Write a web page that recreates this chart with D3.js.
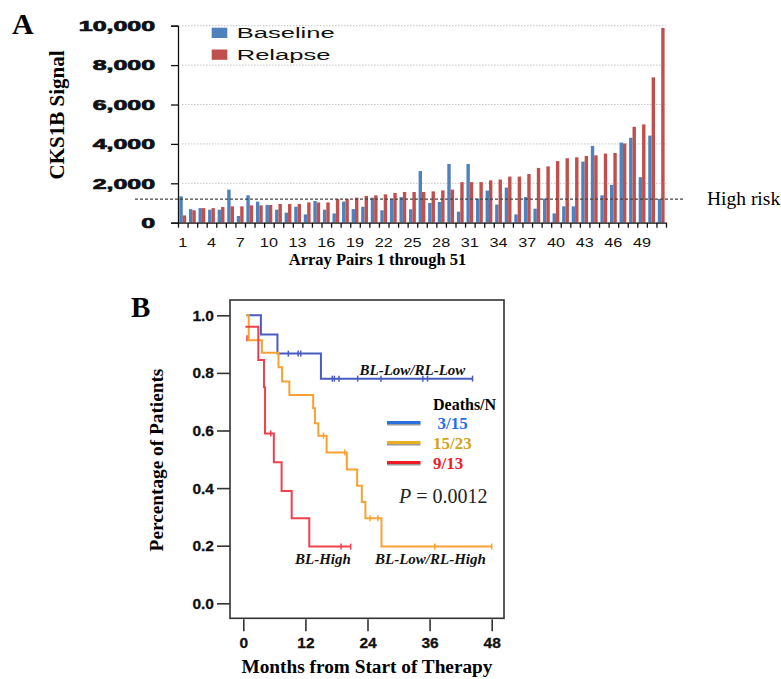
<!DOCTYPE html>
<html>
<head>
<meta charset="utf-8">
<script src="https://cdn.jsdelivr.net/npm/d3@7"></script>
<style>
  body { margin: 0; background: #fff; }
  svg { display: block; }
</style>
</head>
<body>
<div id="chart"></div>
<script>
// ---------- panel A data ----------
var pairs = d3.range(1, 52);
var pairTicks = [1, 4, 7, 10, 13, 16, 19, 22, 25, 28, 31, 34, 37, 40, 43, 46, 49];
var signalTicks = [0, 2000, 4000, 6000, 8000, 10000];
var highRisk = 1200;

var baseline = [1340, 690, 740, 660, 660, 1680, 340, 1390, 1070, 900,
  660, 510, 810, 420, 1100, 660, 470, 1070, 690, 810,
  1270, 630, 1220, 1300, 680, 2620, 1000, 1050, 2980, 560,
  2980, 1220, 1630, 920, 1780, 420, 1300, 710, 1220, 470,
  830, 830, 3100, 3900, 1390, 1920, 4070, 4310, 2310, 4420, 1200];

var relapse = [370, 630, 740, 740, 800, 830, 830, 880, 880, 900,
  950, 950, 950, 1030, 1030, 1030, 1200, 1200, 1270, 1360,
  1390, 1440, 1510, 1560, 1560, 1560, 1590, 1640, 1680, 2060,
  2060, 2060, 2150, 2190, 2340, 2340, 2470, 2780, 2860, 3130,
  3270, 3320, 3390, 3420, 3510, 3540, 4020, 4870, 4990, 7380, 9890];

// ---------- panel B data (month, survival) ----------
var monthTicks = [0, 12, 24, 36, 48];
var survTicks = [0, 0.2, 0.4, 0.6, 0.8, 1.0];

var lowLow = [[0.6, 1.0], [3.4, 0.933], [6.6, 0.867], [15.0, 0.78], [44.3, 0.78]];
var lowLowCens = [[8.7, 0.867], [10.6, 0.867], [11.1, 0.867], [17.2, 0.78], [17.6, 0.78], [18.5, 0.78],
  [22.1, 0.78], [26.6, 0.78], [34.7, 0.78], [35.6, 0.78], [44.3, 0.78]];

var lowHigh = [[0.6, 1.0], [1.05, 0.913], [3.6, 0.87], [6.8, 0.82], [7.5, 0.77], [8.9, 0.723],
  [13.5, 0.677], [13.85, 0.625], [14.5, 0.582], [16.1, 0.524], [20.0, 0.465], [22.0, 0.408],
  [22.9, 0.352], [23.6, 0.295], [26.7, 0.197], [48.0, 0.197]];
var lowHighCens = [[15.5, 0.582], [19.6, 0.524], [24.5, 0.295], [26.0, 0.295], [37.0, 0.197], [48.0, 0.197]];

var blHigh = [[0.4, 0.96], [2.9, 0.845], [4.0, 0.75], [4.2, 0.59], [5.9, 0.49], [7.4, 0.39],
  [9.35, 0.295], [12.75, 0.197], [20.75, 0.197]];
var blHighCens = [[0.7, 0.92], [5.3, 0.59], [18.9, 0.197], [20.75, 0.197]];

var legendLabels = ["3/15", "15/23", "9/13"];

var sans = "'Liberation Sans', Arial, sans-serif";
var serif = "'Liberation Serif', 'Times New Roman', serif";

var svg = d3.select("#chart")
  .append("svg")
  .attr("width", 781)
  .attr("height", 679)
  .style("background", "#fff");

// text squeezed/stretched horizontally like the scanned figure
function wideText(parent, x, y, str, sx, anchor) {
  var g = parent.append("g").attr("transform", "translate(" + x + "," + y + ") scale(" + sx + ",1)");
  return g.append("text").attr("text-anchor", anchor).text(str);
}

// ================= panel A =================
var aLeft = 178, aRight = 666, aTop = 25.7, aBottom = 222.7;
var chartA = svg.append("g");

var xBand = d3.scaleBand()
  .domain(pairs)
  .range([aLeft, aRight])
  .paddingInner(0.29)
  .paddingOuter(0.145);

var xSub = d3.scaleBand()
  .domain(["baseline", "relapse"])
  .range([0, xBand.bandwidth()]);

var xEdge = d3.scaleLinear().domain([0, 51]).range([aLeft, aRight]);

var yA = d3.scaleLinear().domain([0, 10000]).range([aBottom, aTop]);

// grid
chartA.selectAll("line.grid")
  .data(signalTicks.slice(1))
  .enter()
  .append("line")
  .attr("x1", aLeft + 4).attr("x2", aRight)
  .attr("y1", d => yA(d)).attr("y2", d => yA(d))
  .attr("stroke", "#c4c4c4")
  .attr("stroke-width", 1)
  .attr("stroke-dasharray", "1.5,1.5");

// bars
chartA.selectAll("rect.base")
  .data(baseline)
  .enter()
  .append("rect")
  .attr("x", (d, i) => xBand(pairs[i]) + xSub("baseline"))
  .attr("y", d => yA(d))
  .attr("width", xSub.bandwidth())
  .attr("height", d => yA(0) - yA(d))
  .attr("fill", "#4f81bd");

chartA.selectAll("rect.rel")
  .data(relapse)
  .enter()
  .append("rect")
  .attr("x", (d, i) => xBand(pairs[i]) + xSub("relapse"))
  .attr("y", d => yA(d))
  .attr("width", xSub.bandwidth())
  .attr("height", d => yA(0) - yA(d))
  .attr("fill", "#c0504d");

// axes
var yAxisA = chartA.append("g")
  .attr("transform", "translate(" + aLeft + ",0)")
  .call(d3.axisLeft(yA).tickValues(signalTicks).tickSize(7).tickFormat(""));

var xAxisA = chartA.append("g")
  .attr("transform", "translate(0," + aBottom + ")")
  .call(d3.axisBottom(xEdge).tickValues(d3.range(0, 52)).tickSize(5).tickSizeOuter(0).tickFormat(""));

chartA.selectAll(".domain, .tick line").attr("stroke", "#111").attr("stroke-width", 1.3);

signalTicks.forEach(function(v) {
  wideText(chartA, 155, yA(v) + 5.3, d3.format(",")(v), 1.72, "end")
    .attr("font-family", sans).attr("font-weight", "bold").attr("font-size", 14.5)
    .attr("fill", "#111").attr("stroke", "#111").attr("stroke-width", 0.7);
});

pairTicks.forEach(function(p) {
  wideText(chartA, xBand(p) + xBand.bandwidth() / 2, 247, p, 1.3, "middle")
    .attr("font-family", sans).attr("font-size", 12.5).attr("fill", "#111");
});

// high risk cutoff
chartA.append("line")
  .attr("x1", 135).attr("x2", 685)
  .attr("y1", yA(highRisk)).attr("y2", yA(highRisk))
  .attr("stroke", "#444")
  .attr("stroke-width", 1.2)
  .attr("stroke-dasharray", "3,2");

chartA.append("text")
  .attr("x", 707).attr("y", yA(highRisk) + 6)
  .attr("font-family", serif).attr("font-size", 19.5)
  .text("High risk");

// legend
var legA = [["Baseline", "#4f81bd", 27.7], ["Relapse", "#c0504d", 49.5]];
legA.forEach(function(l) {
  chartA.append("rect")
    .attr("x", 211.7).attr("y", l[2]).attr("width", 15.6).attr("height", 10.3)
    .attr("fill", l[1]);
  wideText(chartA, 236.7, l[2] + 10.2, l[0], 1.65, "start")
    .attr("font-family", sans).attr("font-size", 15.5).attr("fill", "#111");
});

// titles
chartA.append("text")
  .attr("x", 12).attr("y", 34)
  .attr("font-family", serif).attr("font-weight", "bold").attr("font-size", 30)
  .text("A");

chartA.append("text")
  .attr("transform", "translate(64,115) rotate(-90)")
  .attr("text-anchor", "middle")
  .attr("font-family", serif).attr("font-weight", "bold").attr("font-size", 21)
  .text("CKS1B Signal");

chartA.append("text")
  .attr("x", 377.5).attr("y", 265)
  .attr("text-anchor", "middle")
  .attr("font-family", serif).attr("font-weight", "bold").attr("font-size", 16.5)
  .text("Array Pairs 1 through 51");

// ================= panel B =================
var bLeft = 230, bRight = 504, bTop = 300, bBottom = 618.3;
var chartB = svg.append("g");

var xB = d3.scaleLinear().domain([0, 48]).range([243.3, 491.7]);
var yB = d3.scaleLinear().domain([0, 1]).range([603.3, 315.3]);

chartB.append("rect")
  .attr("x", bLeft).attr("y", bTop)
  .attr("width", bRight - bLeft).attr("height", bBottom - bTop)
  .attr("fill", "none")
  .attr("stroke", "#333")
  .attr("stroke-width", 1.6);

var yAxisB = chartB.append("g")
  .attr("transform", "translate(" + bLeft + ",0)")
  .call(d3.axisLeft(yB).tickValues(survTicks).tickSize(13).tickPadding(3).tickFormat(d3.format(".1f")));

var xAxisB = chartB.append("g")
  .attr("transform", "translate(0," + (bBottom + 1) + ")")
  .call(d3.axisBottom(xB).tickValues(monthTicks).tickSize(12).tickPadding(6));

[yAxisB, xAxisB].forEach(function(ax) {
  ax.select(".domain").remove();
  ax.selectAll(".tick line").attr("stroke", "#333").attr("stroke-width", 1.6);
  ax.selectAll(".tick text")
    .attr("font-family", sans).attr("font-weight", "bold").attr("font-size", 15.5)
    .attr("fill", "#111").attr("stroke", "#111").attr("stroke-width", 0.3);
});

// survival curves
var kmLine = d3.line()
  .x(d => xB(d[0]))
  .y(d => yB(d[1]))
  .curve(d3.curveStepAfter);

var groups = [
  [lowLow, lowLowCens, "#4a5cbf"],
  [lowHigh, lowHighCens, "#f7a234"],
  [blHigh, blHighCens, "#f0404e"]
];

groups.forEach(function(g) {
  chartB.append("path")
    .datum(g[0])
    .attr("d", kmLine)
    .attr("fill", "none")
    .attr("stroke", g[2])
    .attr("stroke-width", 2);

  chartB.selectAll(null)
    .data(g[1])
    .enter()
    .append("line")
    .attr("x1", d => xB(d[0])).attr("x2", d => xB(d[0]))
    .attr("y1", d => yB(d[1]) - 3).attr("y2", d => yB(d[1]) + 3)
    .attr("stroke", g[2])
    .attr("stroke-width", 1.5);
});

// curve labels
var curveLabels = [["BL-Low/RL-Low", 359.5, 374.5], ["BL-High", 295, 564], ["BL-Low/RL-High", 375, 564]];
curveLabels.forEach(function(c) {
  chartB.append("text")
    .attr("x", c[1]).attr("y", c[2])
    .attr("font-family", serif).attr("font-weight", "bold").attr("font-style", "italic")
    .attr("font-size", 15)
    .attr("fill", "#111")
    .text(c[0]);
});

// legend
chartB.append("text")
  .attr("x", 433).attr("y", 410)
  .attr("font-family", serif).attr("font-weight", "bold").attr("font-size", 16)
  .text("Deaths/N");

var legColors = ["#1f6fe8", "#d4a21c", "#ee1c25"];
var legLines = ["#2b6fe0", "#e8b020", "#f01c24"];
legendLabels.forEach(function(lab, i) {
  var ly = 422.5 + i * 20;
  chartB.append("line")
    .attr("x1", 387).attr("x2", 420.5)
    .attr("y1", ly + 2).attr("y2", ly + 2)
    .attr("stroke", "#9a9a9a").attr("stroke-width", 2);
  chartB.append("line")
    .attr("x1", 387).attr("x2", 420.5)
    .attr("y1", ly).attr("y2", ly)
    .attr("stroke", legLines[i]).attr("stroke-width", 3.2);
  chartB.append("text")
    .attr("x", i === 0 ? 437.5 : 433).attr("y", ly + 6.5)
    .attr("font-family", serif).attr("font-weight", "bold").attr("font-size", 17)
    .attr("fill", legColors[i])
    .text(lab);
});

var pText = chartB.append("text")
  .attr("x", 399).attr("y", 503)
  .attr("font-family", serif).attr("font-size", 20)
  .attr("fill", "#222");
pText.append("tspan").attr("font-style", "italic").text("P");
pText.append("tspan").text(" = 0.0012");

// titles
chartB.append("text")
  .attr("x", 131).attr("y", 317)
  .attr("font-family", serif).attr("font-weight", "bold").attr("font-size", 29)
  .text("B");

chartB.append("text")
  .attr("transform", "translate(163,460) rotate(-90)")
  .attr("text-anchor", "middle")
  .attr("font-family", serif).attr("font-weight", "bold").attr("font-size", 19.3)
  .text("Percentage of Patients");

chartB.append("text")
  .attr("x", 367).attr("y", 673)
  .attr("text-anchor", "middle")
  .attr("font-family", serif).attr("font-weight", "bold").attr("font-size", 19.3)
  .text("Months from Start of Therapy");
</script>
</body>
</html>
